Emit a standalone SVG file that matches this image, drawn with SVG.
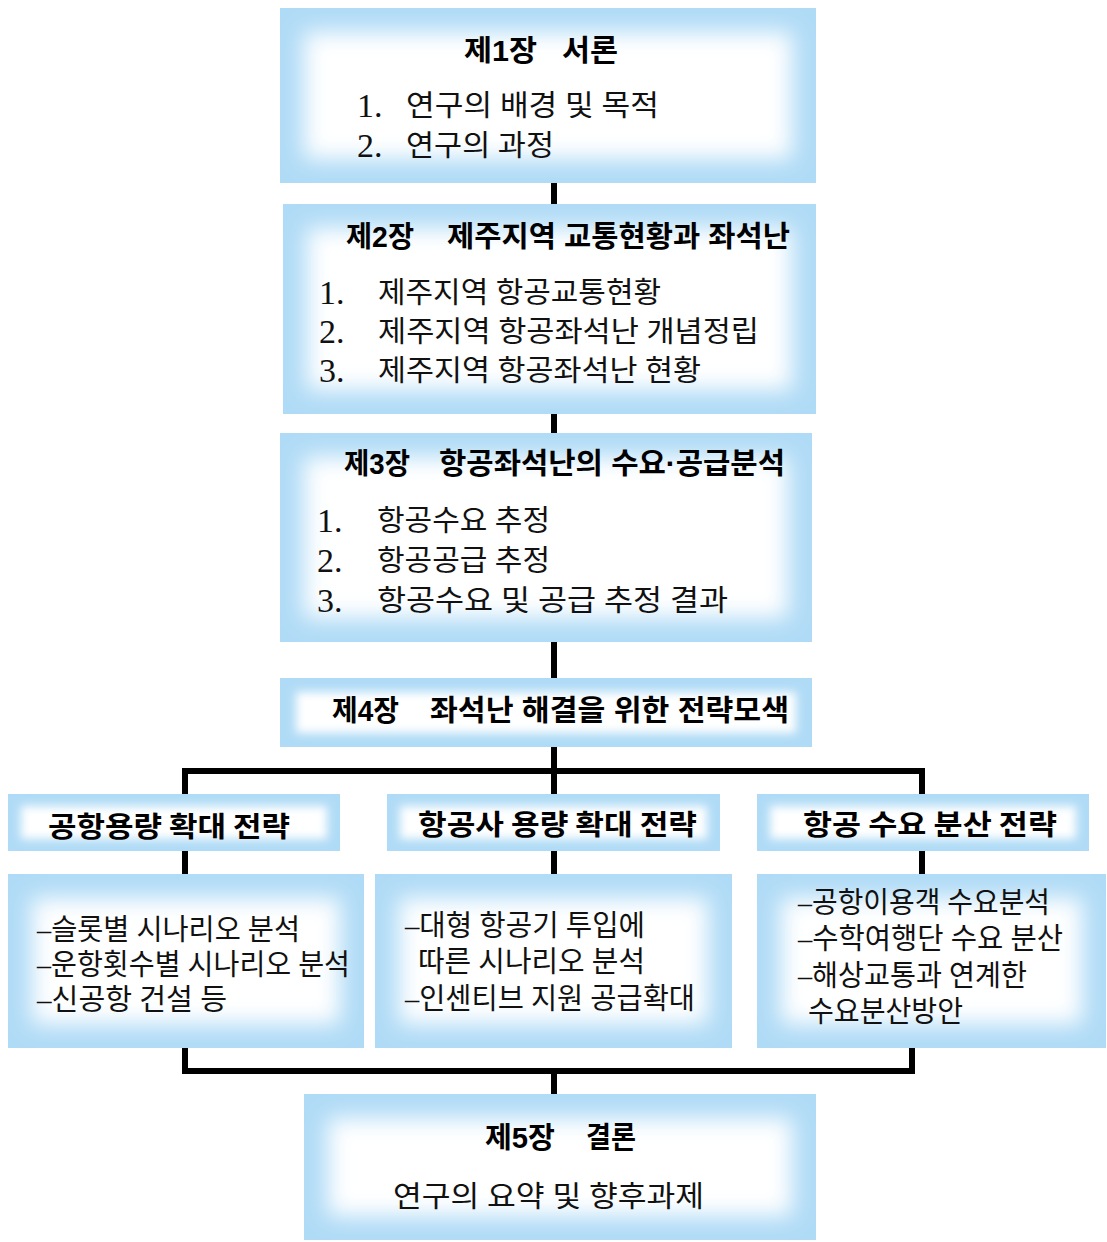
<svg xmlns="http://www.w3.org/2000/svg" width="1107" height="1242" viewBox="0 0 1107 1242">
<defs>
<filter id="glow" filterUnits="userSpaceOnUse" x="0" y="0" width="1107" height="1242"><feGaussianBlur stdDeviation="11"/></filter>
<filter id="glowS" filterUnits="userSpaceOnUse" x="0" y="0" width="1107" height="1242"><feGaussianBlur stdDeviation="5"/></filter>
<style>
.edge{fill:#b0dbf6}
.core{fill:#ffffff}
.ttl{font-family:"Liberation Sans","Noto Sans CJK KR",sans-serif;font-weight:700;font-size:29px;fill:#000}
.itm{font-family:"Liberation Serif","Noto Sans CJK KR",serif;font-weight:400;font-size:29px;fill:#111}
.num{font-family:"Liberation Serif",serif;font-weight:400;font-size:34px;fill:#111}
.hdr{font-family:"Noto Sans CJK KR",sans-serif;font-weight:700;font-size:28px;fill:#000}
.conn{fill:none;stroke:#000;stroke-width:6;stroke-linejoin:miter}
</style>
</defs>
<rect width="1107" height="1242" fill="#fff"/>

<g id="connectors">
<path class="conn" d="M554 183V204M554 414V433M554 642V678M554 747V771"/>
<path class="conn" d="M185 794V771H922V794M554 771V794"/>
<path class="conn" d="M185 851V874M554 851V874M922 851V874"/>
<path class="conn" d="M185 1048V1071H912V1048M554 1071V1094"/>
</g>

<g id="ch1">
<rect class="edge" x="280" y="8" width="536" height="175"/>
<rect class="core" x="304" y="32" width="488" height="127" filter="url(#glow)"/>
<text class="ttl" x="464" y="61" textLength="73" lengthAdjust="spacingAndGlyphs">제1장</text>
<text class="ttl" x="562" y="61" textLength="56" lengthAdjust="spacingAndGlyphs">서론</text>
<text class="num" x="357" y="117">1.</text>
<text class="itm" x="406" y="116" textLength="253" lengthAdjust="spacingAndGlyphs">연구의 배경 및 목적</text>
<text class="num" x="357" y="157">2.</text>
<text class="itm" x="406" y="156" textLength="148" lengthAdjust="spacingAndGlyphs">연구의 과정</text>
</g>

<g id="ch2">
<rect class="edge" x="283" y="204" width="533" height="210"/>
<rect class="core" x="307" y="228" width="485" height="162" filter="url(#glow)"/>
<text class="ttl" x="346" y="247" textLength="68" lengthAdjust="spacingAndGlyphs">제2장</text>
<text class="ttl" x="447" y="247" textLength="343" lengthAdjust="spacingAndGlyphs">제주지역 교통현황과 좌석난</text>
<text class="num" x="319" y="304">1.</text>
<text class="itm" x="378" y="303" textLength="283" lengthAdjust="spacingAndGlyphs">제주지역 항공교통현황</text>
<text class="num" x="319" y="343">2.</text>
<text class="itm" x="378" y="342" textLength="381" lengthAdjust="spacingAndGlyphs">제주지역 항공좌석난 개념정립</text>
<text class="num" x="319" y="382">3.</text>
<text class="itm" x="378" y="381" textLength="323" lengthAdjust="spacingAndGlyphs">제주지역 항공좌석난 현황</text>
</g>

<g id="ch3">
<rect class="edge" x="280" y="433" width="532" height="209"/>
<rect class="core" x="304" y="457" width="484" height="161" filter="url(#glow)"/>
<text class="ttl" x="344" y="474" textLength="66" lengthAdjust="spacingAndGlyphs">제3장</text>
<text class="ttl" x="439" y="474" textLength="346" lengthAdjust="spacingAndGlyphs">항공좌석난의 수요·공급분석</text>
<text class="num" x="317" y="532">1.</text>
<text class="itm" x="377" y="531" textLength="173" lengthAdjust="spacingAndGlyphs">항공수요 추정</text>
<text class="num" x="317" y="572">2.</text>
<text class="itm" x="377" y="571" textLength="173" lengthAdjust="spacingAndGlyphs">항공공급 추정</text>
<text class="num" x="317" y="612">3.</text>
<text class="itm" x="377" y="611" textLength="351" lengthAdjust="spacingAndGlyphs">항공수요 및 공급 추정 결과</text>
</g>

<g id="ch4">
<rect class="edge" x="280" y="678" width="532" height="69"/>
<rect class="core" x="296" y="692" width="500" height="41" filter="url(#glowS)"/>
<text class="ttl" x="332" y="721" textLength="67" lengthAdjust="spacingAndGlyphs">제4장</text>
<text class="ttl" x="430" y="721" textLength="359" lengthAdjust="spacingAndGlyphs">좌석난 해결을 위한 전략모색</text>
</g>

<g id="s1-head">
<rect class="edge" x="8" y="794" width="332" height="57"/>
<rect class="core" x="21" y="806" width="306" height="33" filter="url(#glowS)"/>
<text class="hdr" x="48" y="837" textLength="242" lengthAdjust="spacingAndGlyphs">공항용량 확대 전략</text>
</g>

<g id="s2-head">
<rect class="edge" x="387" y="794" width="333" height="57"/>
<rect class="core" x="400" y="806" width="307" height="33" filter="url(#glowS)"/>
<text class="hdr" x="418" y="835" textLength="279" lengthAdjust="spacingAndGlyphs">항공사 용량 확대 전략</text>
</g>

<g id="s3-head">
<rect class="edge" x="757" y="794" width="332" height="57"/>
<rect class="core" x="770" y="806" width="306" height="33" filter="url(#glowS)"/>
<text class="hdr" x="803" y="835" textLength="254" lengthAdjust="spacingAndGlyphs">항공 수요 분산 전략</text>
</g>

<g id="s1-body">
<rect class="edge" x="8" y="874" width="356" height="174"/>
<rect class="core" x="32" y="898" width="308" height="126" filter="url(#glow)"/>
<text class="itm" x="37" y="940" textLength="263" lengthAdjust="spacingAndGlyphs">–슬롯별 시나리오 분석</text>
<text class="itm" x="37" y="975" textLength="313" lengthAdjust="spacingAndGlyphs">–운항횟수별 시나리오 분석</text>
<text class="itm" x="37" y="1010" textLength="190" lengthAdjust="spacingAndGlyphs">–신공항 건설 등</text>
</g>

<g id="s2-body">
<rect class="edge" x="375" y="874" width="357" height="174"/>
<rect class="core" x="399" y="898" width="309" height="126" filter="url(#glow)"/>
<text class="itm" x="405" y="936" textLength="240" lengthAdjust="spacingAndGlyphs">–대형 항공기 투입에</text>
<text class="itm" x="418" y="972" textLength="227" lengthAdjust="spacingAndGlyphs">따른 시나리오 분석</text>
<text class="itm" x="405" y="1009" textLength="290" lengthAdjust="spacingAndGlyphs">–인센티브 지원 공급확대</text>
</g>

<g id="s3-body">
<rect class="edge" x="757" y="874" width="349" height="174"/>
<rect class="core" x="781" y="898" width="301" height="126" filter="url(#glow)"/>
<text class="itm" x="798" y="913" textLength="252" lengthAdjust="spacingAndGlyphs">–공항이용객 수요분석</text>
<text class="itm" x="798" y="949" textLength="265" lengthAdjust="spacingAndGlyphs">–수학여행단 수요 분산</text>
<text class="itm" x="798" y="986" textLength="229" lengthAdjust="spacingAndGlyphs">–해상교통과 연계한</text>
<text class="itm" x="808" y="1022" textLength="155" lengthAdjust="spacingAndGlyphs">수요분산방안</text>
</g>

<g id="ch5">
<rect class="edge" x="304" y="1094" width="512" height="146"/>
<rect class="core" x="328" y="1118" width="464" height="98" filter="url(#glow)"/>
<text class="ttl" x="485" y="1148" textLength="70" lengthAdjust="spacingAndGlyphs">제5장</text>
<text class="ttl" x="586" y="1148" textLength="50" lengthAdjust="spacingAndGlyphs">결론</text>
<text class="itm" x="393" y="1207" textLength="311" lengthAdjust="spacingAndGlyphs">연구의 요약 및 향후과제</text>
</g>
</svg>
